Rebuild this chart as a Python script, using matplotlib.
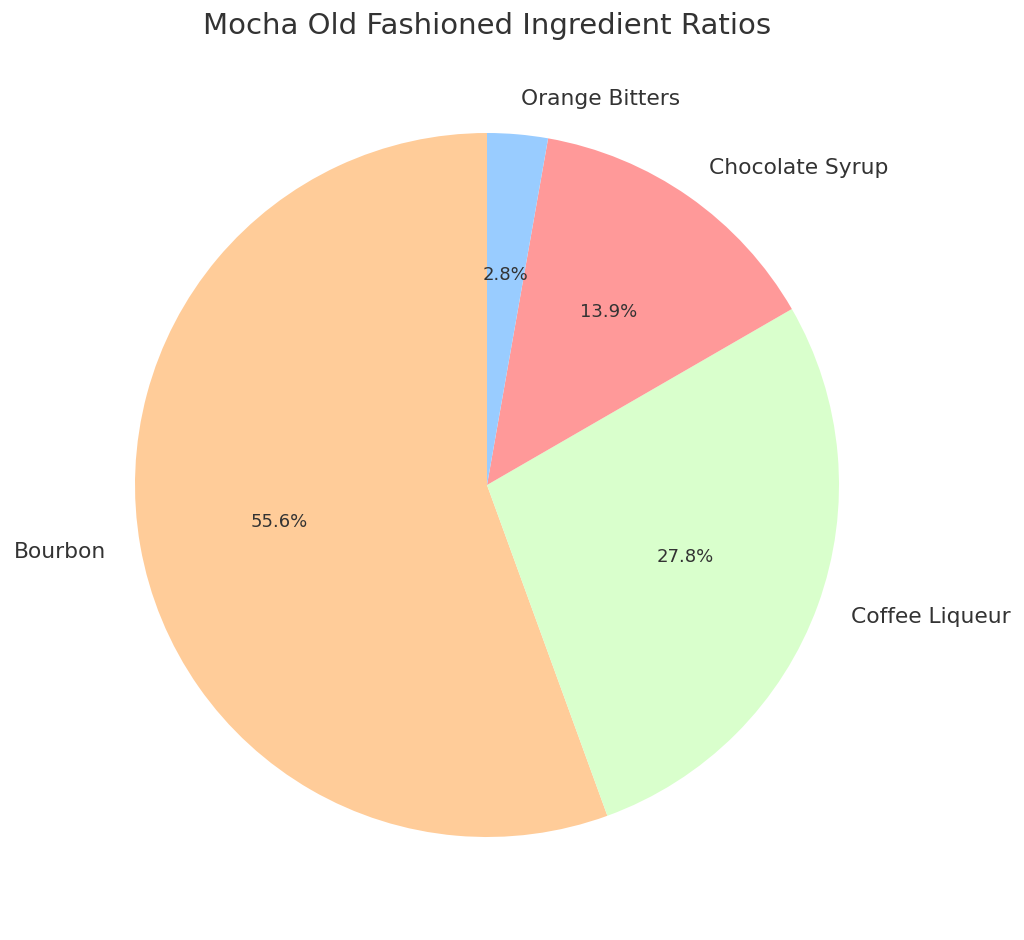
import matplotlib
matplotlib.use("Agg")
import matplotlib.pyplot as plt

# Ingredient amounts (oz)
ingredients = ['Bourbon', 'Coffee Liqueur', 'Chocolate Syrup', 'Orange Bitters']
amounts = [2.0, 1.0, 0.5, 0.1]
colors = ['#ffcc99', '#d9ffcc', '#ff9999', '#99ccff']

text_color = '#333333'

fig = plt.figure(figsize=(10.24, 9.4), dpi=100)
ax = fig.add_axes([47 / 1024, 15 / 940, 880 / 1024, 880 / 940])

wedges, texts, autotexts = ax.pie(
    amounts, labels=ingredients, colors=colors, autopct='%1.1f%%',
    startangle=90, textprops={'color': text_color},
)
for t in texts:
    t.set_fontsize(15.7)
for t in autotexts:
    t.set_fontsize(13)

ax.set_aspect('equal')
ax.set_title('Mocha Old Fashioned Ingredient Ratios', fontsize=21, color=text_color, pad=8)

fig.savefig('out.png', dpi=100)
